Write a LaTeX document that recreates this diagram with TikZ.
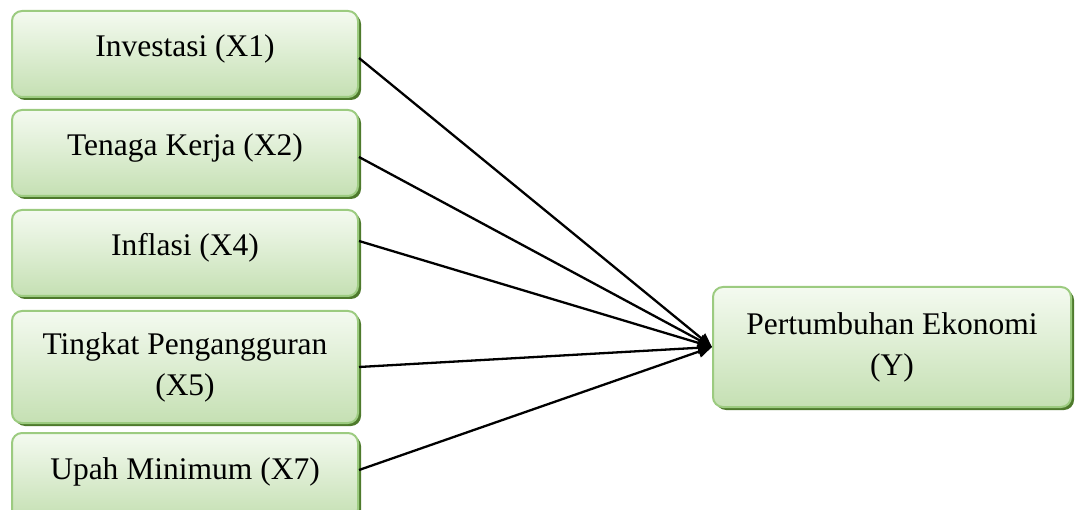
\documentclass[tikz,border=0pt]{standalone}
\usepackage{fontspec}
\setmainfont{Liberation Serif}
\usetikzlibrary{shadows,arrows.meta}
\definecolor{bordergreen}{HTML}{9CCB80}
\definecolor{topgreen}{HTML}{F4FAF0}
\definecolor{botgreen}{HTML}{C5E0B3}
\definecolor{shadowgreen}{HTML}{4E7A2C}
\tikzset{
  varbox/.style={draw=bordergreen, line width=2pt, rounded corners=10pt,
    top color=topgreen, bottom color=botgreen,
    drop shadow={shadow xshift=3pt, shadow yshift=-3pt, fill=shadowgreen, opacity=1},
    font=\fontsize{31.5}{41}\selectfont, align=center, inner sep=0pt},
  onebox/.style={varbox, minimum width=346pt, minimum height=86pt, text height=22pt, text depth=16pt},
  link/.style={line width=2.3pt, -{Triangle[length=14pt,width=12pt]}}
}
\begin{document}
\begin{tikzpicture}[x=1pt,y=-1pt]
\useasboundingbox (0,0) rectangle (1078,510);
\node[onebox] (x1) at (185,54) {Investasi (X1)};
\node[onebox] (x2) at (185,153) {Tenaga Kerja (X2)};
\node[onebox] (x4) at (185,253) {Inflasi (X4)};
\node[varbox, minimum width=346pt, minimum height=112pt] (x5) at (185,367) {Tingkat Pengangguran\\(X5)};
\node[onebox] (x7) at (185,476) {Upah Minimum (X7)};
\node[varbox, minimum width=358pt, minimum height=120pt] (y) at (892,347) {Pertumbuhan Ekonomi\\(Y)};
\coordinate (tip) at (y.west);
\draw[link] (x1.east |- 0,58) -- (tip);
\draw[link] (x2.east |- 0,157) -- (tip);
\draw[link] (x4.east |- 0,241) -- (tip);
\draw[link] (x5.east |- 0,367) -- (tip);
\draw[link] (x7.east |- 0,470) -- (tip);
\end{tikzpicture}
\end{document}
